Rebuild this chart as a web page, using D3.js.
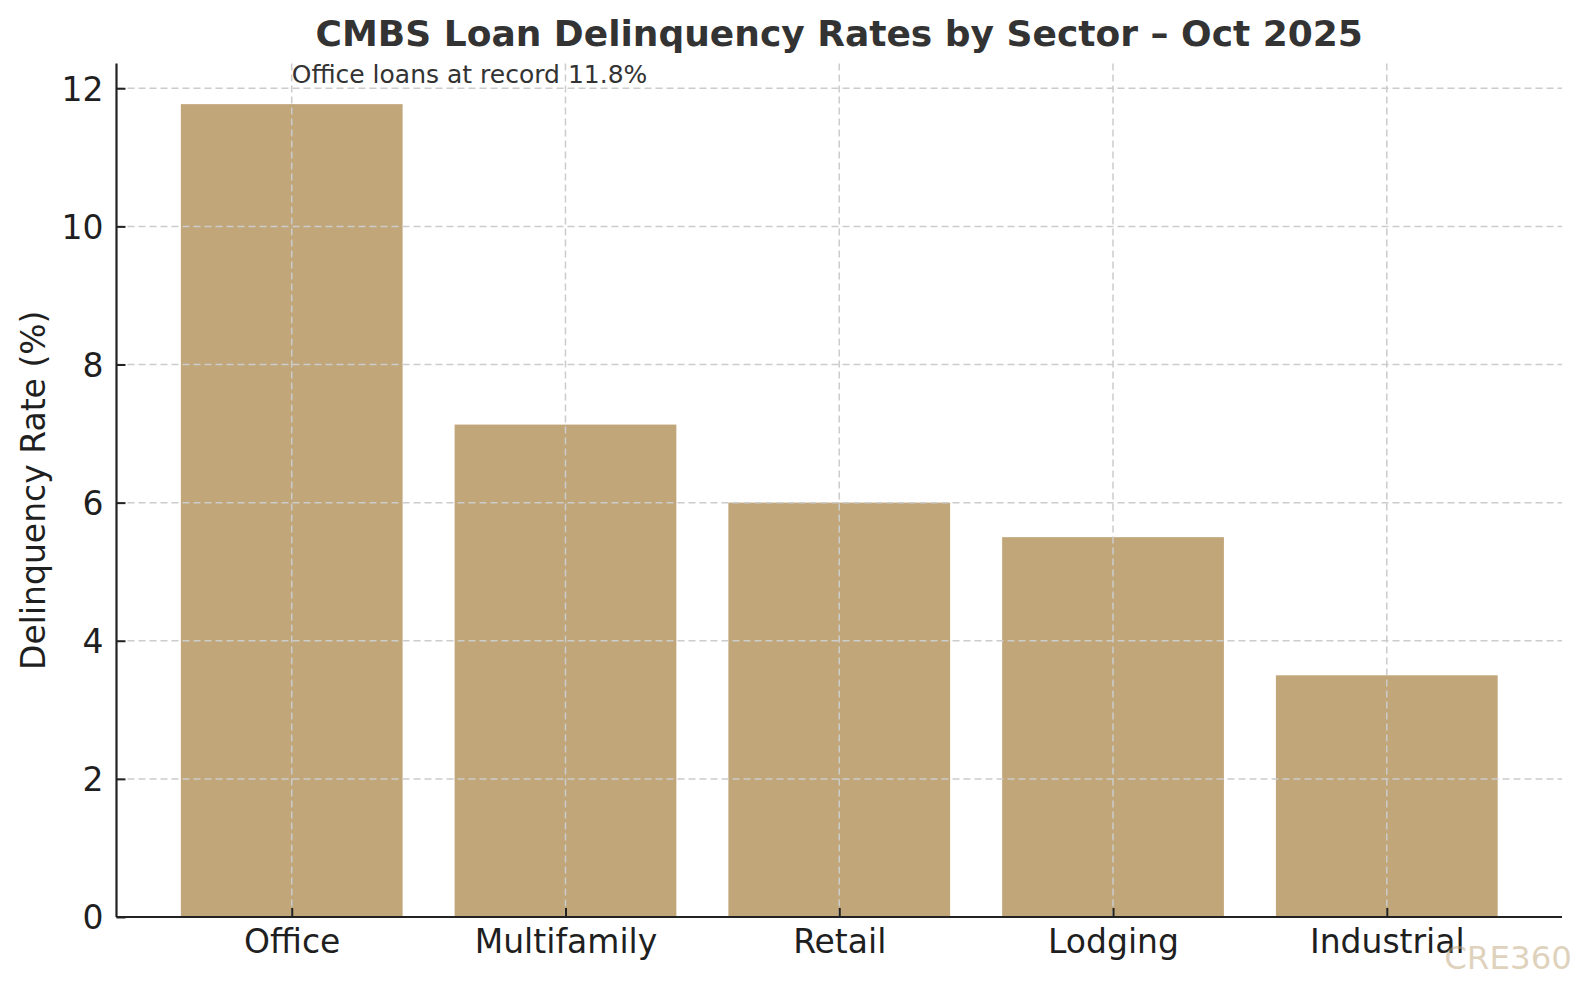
<!DOCTYPE html>
<html>
<head>
<meta charset="utf-8">
<script src="https://cdn.jsdelivr.net/npm/d3@7"></script>
<style>
  html, body { margin: 0; padding: 0; background: #fff; }
  svg { display: block; font-family: "DejaVu Sans", sans-serif; }
</style>
</head>
<body>
<div id="chart"></div>
<script>
// data
const sectors = ["Office", "Multifamily", "Retail", "Lodging", "Industrial"];
const rates = [11.77, 7.13, 6.0, 5.5, 3.5];
const yTicks = [0, 2, 4, 6, 8, 10, 12];
const titleText = "CMBS Loan Delinquency Rates by Sector \u2013 Oct 2025";
const noteText = "Office loans at record 11.8%";
const yLabel = "Delinquency Rate (%)";
const watermark = "CRE360";

const width = 1594, height = 997;
const margin = { top: 63.5, right: 32, bottom: 80, left: 116.5 };
const innerWidth = width - margin.left - margin.right;
const innerHeight = height - margin.top - margin.bottom;
const barColor = "#c0a679";

const root = d3.select("#chart").append("svg")
    .attr("width", width).attr("height", height);

const svg = root.append("g").attr("transform", `translate(${margin.left},${margin.top})`);

// matplotlib-like limits: 5% margin on x, 5% headroom on y
const x = d3.scaleLinear().domain([-0.64, sectors.length - 1 + 0.64]).range([0, innerWidth]);
const y = d3.scaleLinear().domain([0, d3.max(rates) * 1.05]).range([innerHeight, 0]);
const half = 0.405;

// bars
svg.selectAll("rect.bar")
    .data(sectors).enter().append("rect")
    .attr("class", "bar")
    .attr("x", (d, i) => x(i - half))
    .attr("width", (d, i) => x(i + half) - x(i - half))
    .attr("y", (d, i) => y(rates[i]))
    .attr("height", (d, i) => y(0) - y(rates[i]))
    .attr("fill", barColor);

// grid on top of bars
const grid = svg.append("g").attr("stroke", "#cccccc").attr("stroke-width", 1.5)
    .attr("stroke-dasharray", "7,4").attr("fill", "none");
grid.selectAll("line.hg").data(yTicks.slice(1)).enter().append("line")
    .attr("x1", 0).attr("x2", innerWidth)
    .attr("y1", d => y(d)).attr("y2", d => y(d));
grid.selectAll("line.vg").data(sectors).enter().append("line")
    .attr("x1", (d, i) => x(i)).attr("x2", (d, i) => x(i))
    .attr("y1", 0).attr("y2", innerHeight);

// axes (ticks pointing in)
const xAxis = svg.append("g").attr("transform", `translate(0,${innerHeight})`)
    .call(d3.axisBottom(x).tickValues(d3.range(sectors.length)).tickFormat(i => sectors[i])
        .tickSizeInner(-9).tickSizeOuter(0).tickPadding(14));
const yAxis = svg.append("g")
    .call(d3.axisLeft(y).tickValues(yTicks).tickSizeInner(-9).tickSizeOuter(0).tickPadding(13));

[xAxis, yAxis].forEach(a => {
    a.select(".domain").attr("stroke", "#222").attr("stroke-width", 2.2);
    a.selectAll(".tick line").attr("stroke", "#222").attr("stroke-width", 2);
    a.selectAll(".tick text").attr("fill", "#1f1f1f")
        .style("font-size", "33px").style("font-family", "DejaVu Sans, sans-serif");
});
xAxis.select(".domain").attr("d", `M0,0H${innerWidth}`);
yAxis.select(".domain").attr("d", `M0,0V${innerHeight}`);
xAxis.selectAll(".tick text").attr("dy", null).attr("y", 35.5);
yAxis.selectAll(".tick text").attr("x", -13).attr("dy", "0.36em");

// annotation above the office bar
svg.append("text")
    .attr("x", x(0)).attr("y", y(rates[0] + 0.3))
    .attr("fill", "#333333").style("font-size", "25px")
    .text(noteText);

// title
root.append("text")
    .attr("x", margin.left + innerWidth / 2).attr("y", 46)
    .attr("text-anchor", "middle").attr("fill", "#333333")
    .style("font-size", "36px").style("font-weight", "bold")
    .text(titleText);

// y label
root.append("text")
    .attr("transform", `translate(45,${margin.top + innerHeight / 2}) rotate(-90)`)
    .attr("text-anchor", "middle").attr("fill", "#1f1f1f")
    .style("font-size", "33px")
    .text(yLabel);

// watermark
root.append("text")
    .attr("x", 1572).attr("y", 969)
    .attr("text-anchor", "end").attr("fill", barColor).attr("fill-opacity", 0.5)
    .style("font-size", "32.5px")
    .text(watermark);
</script>
</body>
</html>
